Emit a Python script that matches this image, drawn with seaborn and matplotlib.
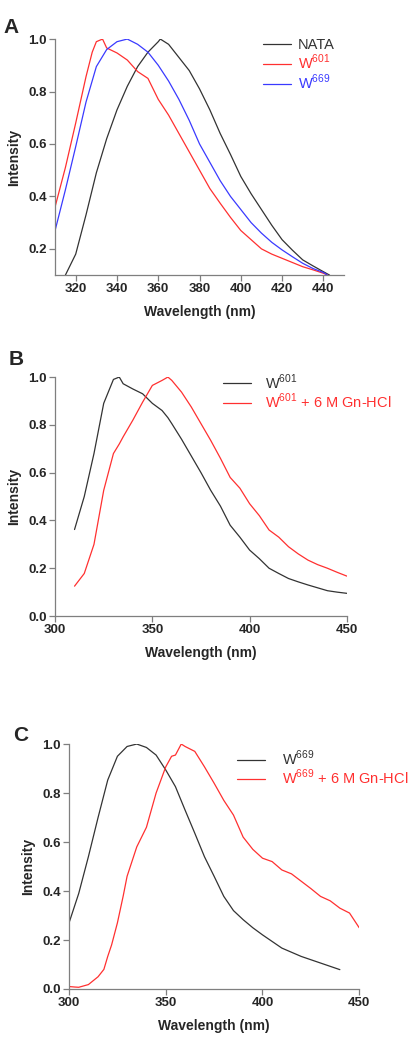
import matplotlib
matplotlib.use("Agg")
import matplotlib.pyplot as plt
import pandas as pd
import seaborn as sns

# ---- panel A: NATA, W601, W669 ----
nata_wl = [315, 320, 325, 330, 335, 340, 345, 350, 355, 360, 361, 365, 370, 375, 380, 385, 390,
           395, 400, 405, 410, 415, 420, 425, 430, 435, 440, 443]
nata_int = [0.10, 0.18, 0.33, 0.49, 0.62, 0.73, 0.82, 0.895, 0.95, 0.99, 1.0, 0.98, 0.93, 0.88,
            0.81, 0.73, 0.64, 0.56, 0.476, 0.41, 0.35, 0.29, 0.235, 0.195, 0.158, 0.135, 0.113, 0.10]
w601_wl = [310, 315, 320, 325, 328, 330, 333, 335, 340, 345, 350, 355, 360, 365, 370, 375, 380,
           385, 390, 395, 400, 405, 410, 415, 420, 425, 430, 435, 440, 442]
w601_int = [0.36, 0.51, 0.68, 0.857, 0.95, 0.99, 1.0, 0.966, 0.947, 0.92, 0.876, 0.85, 0.77,
            0.71, 0.64, 0.57, 0.50, 0.43, 0.374, 0.32, 0.27, 0.235, 0.20, 0.18, 0.164, 0.148,
            0.132, 0.12, 0.107, 0.10]
w669_wl = [310, 315, 320, 325, 330, 335, 340, 345, 350, 355, 360, 365, 370, 375, 380, 385, 390,
           395, 400, 405, 410, 415, 420, 425, 430, 435, 440, 442]
w669_int = [0.27, 0.425, 0.59, 0.76, 0.895, 0.96, 0.99, 1.0, 0.98, 0.95, 0.90, 0.84, 0.77, 0.69,
            0.60, 0.53, 0.46, 0.40, 0.35, 0.30, 0.26, 0.225, 0.196, 0.17, 0.145, 0.125, 0.11, 0.10]

# ---- panel B: W601 native vs 6 M Gn-HCl ----
b_wl = [310, 315, 320, 325, 330, 333, 335, 340, 345, 350, 355, 358, 360, 365, 370, 375, 380, 385,
        390, 395, 400, 405, 410, 415, 420, 425, 430, 435, 440, 445, 450]
b_native = [0.362, 0.50, 0.68, 0.89, 0.99, 1.0, 0.972, 0.95, 0.93, 0.89, 0.86, 0.83, 0.805, 0.74,
            0.67, 0.60, 0.526, 0.46, 0.38, 0.33, 0.276, 0.24, 0.20, 0.178, 0.157, 0.143, 0.13,
            0.118, 0.106, 0.10, 0.095]
b_denat = [0.125, 0.178, 0.30, 0.526, 0.68, 0.72, 0.75, 0.82, 0.895, 0.965, 0.986, 1.0, 0.986,
           0.937, 0.875, 0.805, 0.735, 0.66, 0.58, 0.535, 0.47, 0.42, 0.36, 0.33, 0.29, 0.26,
           0.234, 0.215, 0.20, 0.183, 0.167]

# ---- panel C: W669 native vs 6 M Gn-HCl ----
c_native_wl = [300, 305, 310, 315, 320, 325, 330, 335, 340, 345, 350, 355, 360, 365, 370, 375,
               380, 385, 390, 395, 400, 410, 420, 430, 440]
c_native = [0.27, 0.39, 0.54, 0.70, 0.853, 0.95, 0.99, 1.0, 0.986, 0.955, 0.894, 0.826, 0.73,
            0.636, 0.54, 0.46, 0.378, 0.32, 0.283, 0.25, 0.221, 0.167, 0.133, 0.106, 0.079]
c_denat_wl = [300, 303, 305, 310, 315, 318, 320, 322, 325, 328, 330, 335, 340, 345, 350, 353, 355,
              358, 360, 365, 370, 375, 380, 385, 390, 395, 400, 405, 410, 415, 420, 425, 430,
              435, 440, 445, 450]
c_denat = [0.01, 0.008, 0.007, 0.018, 0.05, 0.08, 0.133, 0.18, 0.27, 0.38, 0.46, 0.58, 0.66,
           0.80, 0.907, 0.95, 0.955, 1.0, 0.99, 0.97, 0.907, 0.84, 0.77, 0.71, 0.62, 0.57, 0.534,
           0.52, 0.486, 0.47, 0.44, 0.41, 0.378, 0.36, 0.33, 0.31, 0.25]

BLACK = "#333333"
RED = "#ff3030"
BLUE = "#3a3aff"
SPINE = "#7f7f7f"

sns.set_style("ticks")
plt.rcParams["font.family"] = ["Liberation Sans", "DejaVu Sans"]
plt.rcParams["mathtext.fontset"] = "custom"
plt.rcParams["mathtext.rm"] = "Liberation Sans"


def draw(ax, series):
    for wl, val, color, label in series:
        df = pd.DataFrame({"wl": wl, "val": val})
        sns.lineplot(data=df, x="wl", y="val", color=color, lw=0.9, label=label, ax=ax)


def style(ax, xlim, ylim, xticks, yticks):
    ax.set_xlim(*xlim)
    ax.set_ylim(*ylim)
    ax.set_xticks(xticks)
    ax.set_yticks(yticks)
    ax.set_xticklabels([str(t) for t in xticks], fontweight="bold", fontsize=9.5)
    ax.set_yticklabels([f"{t:.1f}" for t in yticks], fontweight="bold", fontsize=9.5)
    for s in ["top", "right"]:
        ax.spines[s].set_visible(False)
    for s in ["left", "bottom"]:
        ax.spines[s].set_color(SPINE)
        ax.spines[s].set_linewidth(0.9)
    ax.tick_params(direction="out", length=4, width=0.9, color=SPINE, pad=2)
    ax.set_xlabel("Wavelength (nm)", fontweight="bold", fontsize=10, labelpad=7)
    ax.set_ylabel("Intensity", fontweight="bold", fontsize=10, labelpad=5)


fig = plt.figure(figsize=(4.11, 10.5), dpi=100)
axA = fig.add_axes([0.134, 0.738, 0.703, 0.2248])
axB = fig.add_axes([0.134, 0.4133, 0.710, 0.2276])
axC = fig.add_axes([0.168, 0.0581, 0.706, 0.2333])

draw(axA, [(nata_wl, nata_int, BLACK, "NATA"),
           (w601_wl, w601_int, RED, r"W$^{601}$"),
           (w669_wl, w669_int, BLUE, r"W$^{669}$")])
style(axA, (310, 450), (0.1, 1.0), [320, 340, 360, 380, 400, 420, 440], [0.2, 0.4, 0.6, 0.8, 1.0])
axA.legend(loc="upper left", bbox_to_anchor=(0.675, 1.06), frameon=False, fontsize=10.5,
           handlelength=1.9, handletextpad=0.5, labelspacing=0.05, labelcolor="linecolor")

draw(axB, [(b_wl, b_native, BLACK, r"W$^{601}$"),
           (b_wl, b_denat, RED, r"W$^{601}$ + 6 M Gn-HCl")])
style(axB, (300, 450), (0.0, 1.0), [300, 350, 400, 450], [0.0, 0.2, 0.4, 0.6, 0.8, 1.0])
axB.legend(loc="upper left", bbox_to_anchor=(0.53, 1.075), frameon=False, fontsize=10.5,
           handlelength=1.9, handletextpad=1.0, labelspacing=0.0, labelcolor="linecolor")

draw(axC, [(c_native_wl, c_native, BLACK, r"W$^{669}$"),
           (c_denat_wl, c_denat, RED, r"W$^{669}$ + 6 M Gn-HCl")])
style(axC, (300, 450), (0.0, 1.0), [300, 350, 400, 450], [0.0, 0.2, 0.4, 0.6, 0.8, 1.0])
axC.legend(loc="upper left", bbox_to_anchor=(0.533, 1.035), frameon=False, fontsize=10.5,
           handlelength=1.9, handletextpad=1.2, labelspacing=0.0, labelcolor="linecolor")

fig.text(0.008, 0.983, "A", fontsize=15, fontweight="bold", va="top")
fig.text(0.022, 0.667, "B", fontsize=15, fontweight="bold", va="top")
fig.text(0.032, 0.309, "C", fontsize=15, fontweight="bold", va="top")

fig.savefig("out.png", dpi=100)
